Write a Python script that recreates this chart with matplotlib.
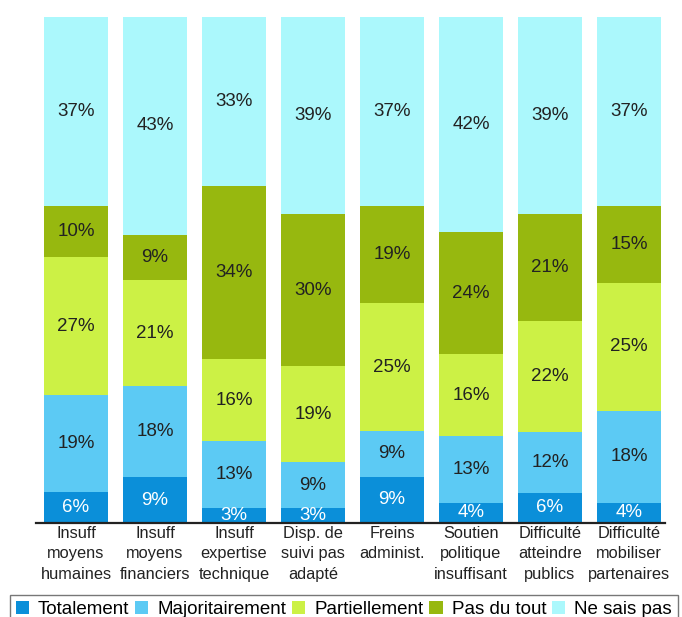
import matplotlib.pyplot as plt
import numpy as np
from matplotlib.patches import Patch

plt.rcParams["font.family"] = ["Liberation Sans", "DejaVu Sans"]

CATEGORIES = [
    "Insuff\nmoyens\nhumaines",
    "Insuff\nmoyens\nfinanciers",
    "Insuff\nexpertise\ntechnique",
    "Disp. de\nsuivi pas\nadapté",
    "Freins\nadminist.",
    "Soutien\npolitique\ninsuffisant",
    "Difficulté\natteindre\npublics",
    "Difficulté\nmobiliser\npartenaires",
]

SERIES = ["Totalement", "Majoritairement", "Partiellement", "Pas du tout", "Ne sais pas"]

totalement = [6, 9, 3, 3, 9, 4, 6, 4]
majoritairement = [19, 18, 13, 9, 9, 13, 12, 18]
partiellement = [27, 21, 16, 19, 25, 16, 22, 25]
pas_du_tout = [10, 9, 34, 30, 19, 24, 21, 15]
ne_sais_pas = [37, 43, 33, 39, 37, 42, 39, 37]

COLORS = ["#0b8fd9", "#5ccaf4", "#ccf145", "#97b80f", "#abf8fc"]
TEXT_COLORS = ["white", "#222222", "#222222", "#222222", "#222222"]

values = np.array([totalement, majoritairement, partiellement, pas_du_tout, ne_sais_pas], dtype=float)
# each column is scaled so the stack fills 100 %
shares = values / values.sum(axis=0) * 100

fig = plt.figure(figsize=(6.82, 6.17), dpi=100)
ax = fig.add_axes([36 / 682, 1 - 523 / 617, 629 / 682, 506 / 617])

x = np.arange(len(CATEGORIES))
bottom = np.zeros(len(CATEGORIES))
for i, name in enumerate(SERIES):
    ax.bar(x, shares[i], bottom=bottom, width=0.81, color=COLORS[i], label=name)
    for xi, b, h, v in zip(x, bottom, shares[i], values[i]):
        ax.text(xi, b + h / 2, f"{int(v)}%", ha="center", va="center",
                fontsize=13.5, color=TEXT_COLORS[i])
    bottom += shares[i]

ax.set_xlim(-0.506, 7.456)
ax.set_ylim(0, 100)
for side in ["left", "right", "top"]:
    ax.spines[side].set_visible(False)
ax.spines["bottom"].set_linewidth(1.6)
ax.spines["bottom"].set_color("#222222")
ax.set_yticks([])
ax.set_xticks(x)
ax.set_xticklabels(CATEGORIES, fontsize=11.8, color="#222222", linespacing=1.45)
ax.tick_params(axis="x", length=0, pad=2)

handles = [Patch(facecolor=c, label=s) for c, s in zip(COLORS, SERIES)]
leg = fig.legend(handles=handles, loc="upper left", bbox_to_anchor=(10 / 682, 1 - 595 / 617),
                 ncol=5, frameon=True, fontsize=13.5, handlelength=0.7, handleheight=0.7,
                 handletextpad=0.5, columnspacing=0.3, borderpad=0.3, borderaxespad=0,
                 fancybox=False)
leg.get_frame().set_edgecolor("#555555")
leg.get_frame().set_linewidth(1.0)

fig.savefig("out.png", dpi=100)
